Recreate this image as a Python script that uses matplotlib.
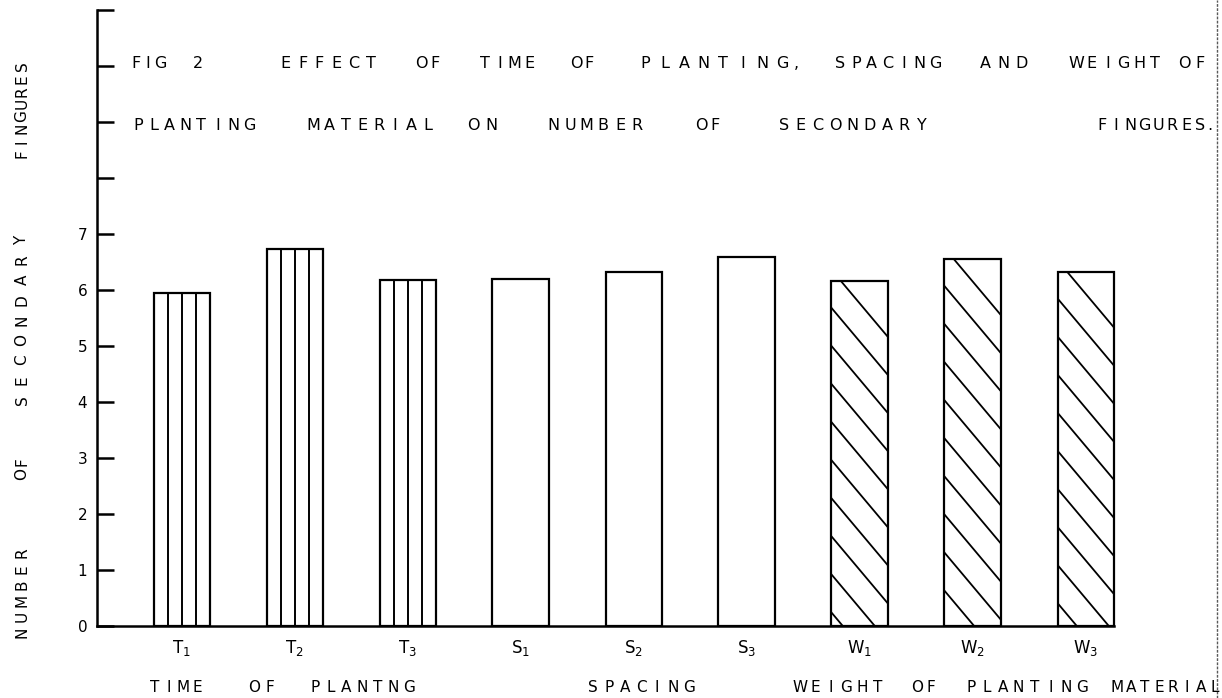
import numpy as np
import matplotlib
matplotlib.use('Agg')
import matplotlib.pyplot as plt

# dati (numero di dita secondarie)
categories = ['T$_1$', 'T$_2$', 'T$_3$', 'S$_1$', 'S$_2$', 'S$_3$', 'W$_1$', 'W$_2$', 'W$_3$']
values = [5.95, 6.73, 6.18, 6.20, 6.33, 6.59, 6.16, 6.55, 6.33]
groups = ['T', 'T', 'T', 'S', 'S', 'S', 'W', 'W', 'W']
ytick_values = list(range(0, 12))
ytick_labels = ['0', '1', '2', '3', '4', '5', '6', '7', '', '', '', '']

title_line1 = ['FIG', '2', 'EFFECT', 'OF', 'TIME', 'OF', 'PLANTING,', 'SPACING', 'AND', 'WEIGHT', 'OF']
title_line2 = ['PLANTING', 'MATERIAL', 'ON', 'NUMBER', 'OF', 'SECONDARY', 'FINGURES.']
ylabel_words = ['NUMBER', 'OF', 'SECONDARY', 'FINGURES']
group_words = ['TIME', 'OF', 'PLANTNG', 'SPACING', 'WEIGHT', 'OF', 'PLANTING', 'MATERIAL']

W, H = 1222, 698

# estensione (in pixel) delle parole scritte a mano
line1_span = [(130, 166), (190, 205), (277, 379), (415, 441), (477, 537), (570, 596),
              (635, 800), (832, 943), (977, 1030), (1068, 1163), (1177, 1208)]
line2_span = [(130, 257), (305, 436), (464, 500), (545, 645), (695, 722),
              (775, 930), (1095, 1213)]
ylabel_span = [(545, 640), (455, 480), (230, 410), (60, 160)]
group_span = [(147, 205), (247, 277), (307, 417), (585, 697),
              (792, 885), (910, 938), (963, 1090), (1110, 1222)]


def letters_h(word, x0, x1, y, size):
    # lettere distribuite in orizzontale come nel disegno a mano
    wts = np.array([0.4 if ch in ',.' else 1.0 for ch in word])
    edges = x0 + np.concatenate(([0], np.cumsum(wts))) / wts.sum() * (x1 - x0)
    for k, ch in enumerate(word):
        xc = (edges[k] + edges[k + 1]) / 2
        fig.text(xc / W, 1 - y / H, ch, fontsize=size, ha='center', va='center')


def letters_v(word, y0, y1, x, size):
    n = len(word)
    for k, ch in enumerate(word):
        yc = y1 - (k + 0.5) * (y1 - y0) / n
        fig.text(x / W, 1 - yc / H, ch, fontsize=size, rotation=90, ha='center', va='center')


fig = plt.figure(figsize=(W / 100, H / 100), dpi=100)
ax = fig.add_axes([97 / W, (H - 626) / H, (W - 97) / W, (626 - 10) / H])

x = np.arange(len(values))
bw = 0.5
bars = ax.bar(x, values, width=bw, fill=False, edgecolor='black', linewidth=1.6)

# righe verticali dentro le barre T, tratteggio diagonale dentro le barre W
for i, (g, v, b) in enumerate(zip(groups, values, bars)):
    left = x[i] - bw / 2
    if g == 'T':
        for k in (1, 2, 3):
            ax.vlines(left + bw * k / 4, 0, v, color='black', linewidth=1.4)
    elif g == 'W':
        slope = 2.4
        step = 0.68
        y0 = v + 0.2
        while y0 > -slope * bw:
            xs = np.array([left, left + bw])
            ln, = ax.plot(xs, y0 - slope * (xs - left), color='black', linewidth=1.3)
            ln.set_clip_path(b)
            y0 -= step

ax.set_xlim(-0.75, -0.75 + (W - 97) / 113)
ax.set_ylim(0, 11)
ax.set_yticks(ytick_values, ytick_labels)
ax.set_xticks(x, categories)
ax.tick_params(axis='y', direction='in', length=12, width=1.8, pad=7, labelsize=11)
ax.tick_params(axis='x', length=0, pad=9, labelsize=12)
for s in ('top', 'right'):
    ax.spines[s].set_visible(False)
ax.spines['left'].set_linewidth(1.8)
ax.spines['bottom'].set_linewidth(1.8)
ax.spines['bottom'].set_bounds(-0.75, 8.25)

# titolo su due righe
for wd, (a, b) in zip(title_line1, line1_span):
    letters_h(wd, a, b, 63, 11.5)
for wd, (a, b) in zip(title_line2, line2_span):
    letters_h(wd, a, b, 125, 11.5)

# etichetta asse y
for wd, (a, b) in zip(ylabel_words, ylabel_span):
    letters_v(wd, a, b, 22, 11)

# etichette dei gruppi sotto l'asse x
for wd, (a, b) in zip(group_words, group_span):
    letters_h(wd, a, b, 688, 11)

# bordo della scansione a destra
fig.add_artist(plt.Line2D([1217 / W, 1217 / W], [0, 1], transform=fig.transFigure,
                          color='0.35', linewidth=1, linestyle=(0, (2, 1))))

plt.savefig('out.png', dpi=100)
